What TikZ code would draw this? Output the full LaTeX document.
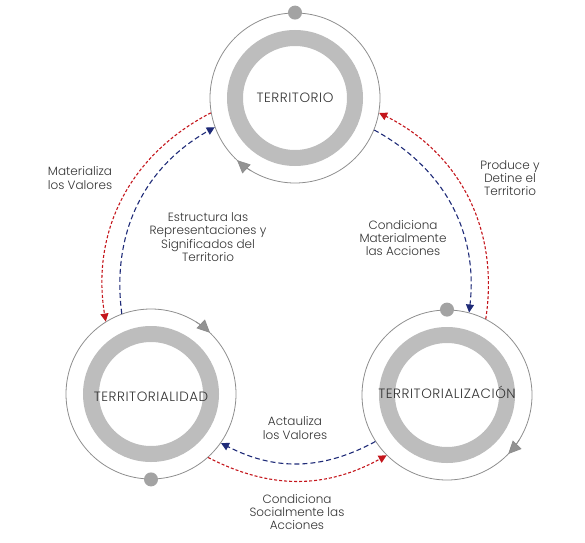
\documentclass[tikz,border=0pt]{standalone}
\usepackage{fontspec}
\setmainfont{Poppins Light}
\usetikzlibrary{arrows.meta,positioning,calc}
\definecolor{cRing}{HTML}{BDBDBD}
\definecolor{cLine}{HTML}{8E8E8E}
\definecolor{cDot}{HTML}{A3A3A3}
\definecolor{cText}{HTML}{333333}
\definecolor{cRed}{HTML}{C4161C}
\definecolor{cBlue}{HTML}{1F2B78}

\begin{document}
\begin{tikzpicture}[x=1pt,y=1pt,font=\fontsize{12}{13.3}\selectfont,
    stage/.style={circle,draw=cLine,line width=0.8pt,minimum size=170pt,inner sep=0pt},
    ring/.style={draw=cRing,line width=16pt},
    stagelabel/.style={text=cText,inner sep=0pt,font=\fontsize{13.5}{14}\selectfont\addfontfeatures{LetterSpace=4}},
    note/.style={text=cText,align=center,inner sep=0pt},
    redflow/.style={cRed,line width=1.1pt,dash pattern=on 3pt off 2pt,-{Triangle[length=8pt,width=8pt]}},
    blueflow/.style={cBlue,line width=1.1pt,dash pattern=on 5pt off 3pt,-{Triangle[length=8pt,width=8pt]}},
    dot/.style={circle,fill=cDot,inner sep=0pt,minimum size=14pt},
    turn/.style={cLine,line width=0.8pt,-{Triangle[length=13pt,width=12pt,fill=cDot!90!black]}}]
  \useasboundingbox (0,0) rectangle (585,542);
  % stages
  \node[stage] (ter)  at (295,444) {};
  \node[stage] (tdad) at (151,148) {};
  \node[stage] (tzn)  at (447,147) {};
  \foreach \n in {ter,tdad,tzn}
    \draw[ring] (\n.center) circle (60pt);
  \node[stagelabel] (terlab)  at (ter.center)  {TERRITORIO};
  \node[stagelabel] (tdadlab) at ([yshift=-3pt]tdad.center) {TERRITORIALIDAD};
  \node[stagelabel] (tznlab)  at ([yshift=3pt]tzn.center)  {TERRITORIALIZACIÓN};
  % dots and turning arrows
  \node[dot] (terdot)  at (ter.90)   {};
  \node[dot] (tdaddot) at (tdad.270) {};
  \node[dot] (tzndot)  at (tzn.90)   {};
  \foreach \n/\a in {ter/239,tdad/58,tzn/328}
    \draw[turn] ([shift={(\a:85pt)}]\n.center) arc[start angle=\a,delta angle=-12,radius=85pt];
  % flows
  \draw[redflow]  (ter.190)  to[bend right=36] (tdad.122);
  \draw[blueflow] (tdad.110) to[bend left=34]  (ter.200);
  \draw[redflow]  (tzn.63)   to[bend right=36] (ter.350);
  \draw[blueflow] (ter.338)  to[bend left=34]  (tzn.75);
  \draw[blueflow] (tzn.213)  to[bend left=28]  (tdad.325);
  \draw[redflow]  (tdad.312) to[bend right=28] (tzn.225);
  % labels
  \node[note] (materializa) at (80,364)  {Materializa\\los Valores};
  \node[note] (estructura)  at (208,305) {Estructura las\\Representaciones y\\Significados del\\Territorio};
  \node[note] (condmat)     at (403,304) {Condiciona\\Materialmente\\las Acciones};
  \node[note] (produce)     at (510,364) {Produce y\\Detine el\\Territorio};
  \node[note] (actauliza)   at (295,114) {Actauliza\\los Valores};
  \node[note] (condsoc)     at (297,30)  {Condiciona\\Socialmente las\\Acciones};
\end{tikzpicture}
\end{document}
